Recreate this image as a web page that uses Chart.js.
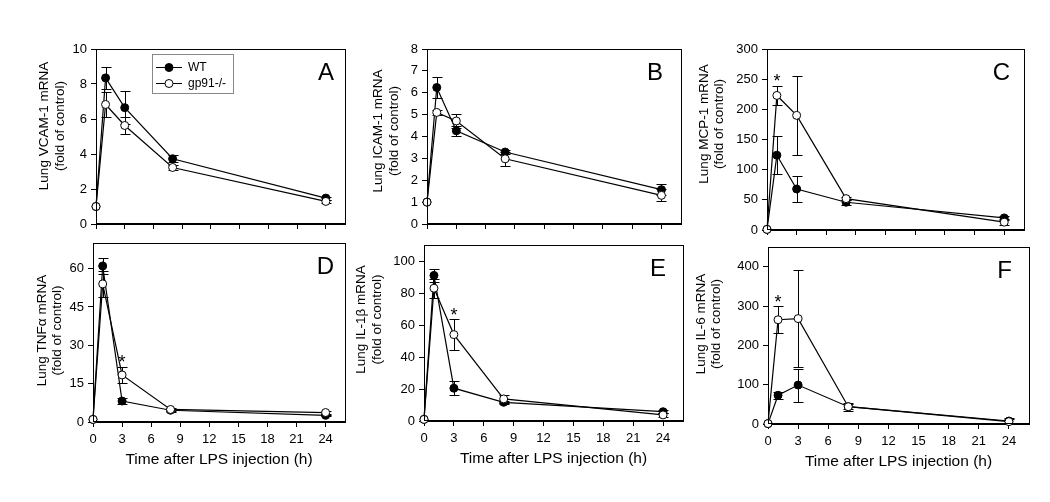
<!DOCTYPE html>
<html>
<head>
<meta charset="utf-8">
<script src="https://cdn.jsdelivr.net/npm/chart.js@4.4.0/dist/chart.umd.min.js"></script>
<style>
  body { margin: 0; background: #fff; width: 1050px; height: 502px; overflow: hidden; position: relative; }
  canvas { position: absolute; }
</style>
</head>
<body>
<script>
Chart.defaults.font.family = "'Liberation Sans', Arial, sans-serif";
Chart.defaults.font.size = 13;
Chart.defaults.color = '#000';

// time points and x ticks (h)
const hours = [0, 1, 3, 8, 24];
const xTicks = [0, 3, 6, 9, 12, 15, 18, 21, 24];

// A - VCAM-1
const vcamWT = [1, 8.35, 6.65, 3.73, 1.48];
const vcamWTerr = [0, 0.63, 0.95, 0.2, 0.08];
const vcamKO = [1, 6.83, 5.63, 3.23, 1.29];
const vcamKOerr = [0, 0.69, 0.47, 0.15, 0.08];
const vcamTicks = [0, 2, 4, 6, 8, 10];

// B - ICAM-1
const icamWT = [1, 6.24, 4.26, 3.29, 1.57];
const icamWTerr = [0, 0.47, 0.23, 0.1, 0.26];
const icamKO = [1, 5.1, 4.71, 2.98, 1.31];
const icamKOerr = [0, 0.1, 0.32, 0.32, 0.28];
const icamTicks = [0, 1, 2, 3, 4, 5, 6, 7, 8];

// C - MCP-1
const mcpWT = [1, 124, 68, 46, 20];
const mcpWTerr = [0, 31, 22, 4, 3];
const mcpKO = [1, 223, 190, 52, 13];
const mcpKOerr = [0, 16, 66, 3, 5];
const mcpTicks = [0, 50, 100, 150, 200, 250, 300];
const mcpStars = [1];

// D - TNFa
const tnfWT = [1, 61, 8.2, 4.6, 2.6];
const tnfWTerr = [0, 3, 1, 0.5, 0.3];
const tnfKO = [1, 54, 18.4, 4.9, 3.7];
const tnfKOerr = [0, 5, 3.2, 0.5, 0.5];
const tnfTicks = [0, 15, 30, 45, 60];
const tnfStars = [3];

// E - IL-1b
const il1WT = [1, 91, 20.5, 11.7, 5.8];
const il1WTerr = [0, 4, 4.3, 1, 1];
const il1KO = [1, 83, 54, 13.8, 3.8];
const il1KOerr = [0, 6, 9.7, 2.5, 1];
const il1Ticks = [0, 20, 40, 60, 80, 100];
const il1Stars = [3];

// F - IL-6
const il6WT = [1, 73, 99, 44, 7.6];
const il6WTerr = [0, 9, 42, 6, 5];
const il6KO = [1, 265, 268, 44, 6];
const il6KOerr = [0, 34, 124, 10, 8];
const il6Ticks = [0, 100, 200, 300, 400];
const il6Stars = [1];

const panels = [
  { letter: 'A', title: ['Lung VCAM-1 mRNA', '(fold of control)'], wt: vcamWT, wtErr: vcamWTerr, ko: vcamKO, koErr: vcamKOerr,
    yMax: 10, yTicks: vcamTicks, stars: [], legend: true, bottom: false,
    box: { l: 96, t: 49, r: 345, b: 224 }, titleDx: 51.5, titleDy: 77, letterDx: 11 },
  { letter: 'B', title: ['Lung ICAM-1 mRNA', '(fold of control)'], wt: icamWT, wtErr: icamWTerr, ko: icamKO, koErr: icamKOerr,
    yMax: 8, yTicks: icamTicks, stars: [], legend: false, bottom: false,
    box: { l: 427, t: 49, r: 681, b: 224 }, titleDx: 48.5, titleDy: 82, letterDx: 18 },
  { letter: 'C', title: ['Lung MCP-1 mRNA', '(fold of control)'], wt: mcpWT, wtErr: mcpWTerr, ko: mcpKO, koErr: mcpKOerr,
    yMax: 300, yTicks: mcpTicks, stars: mcpStars, legend: false, bottom: false,
    box: { l: 767, t: 49, r: 1024, b: 230 }, titleDx: 63, titleDy: 75, letterDx: 14 },
  { letter: 'D', title: ['Lung TNF\u03b1 mRNA', '(fold of control)'], wt: tnfWT, wtErr: tnfWTerr, ko: tnfKO, koErr: tnfKOerr,
    yMax: 70, yTicks: tnfTicks, stars: tnfStars, legend: false, bottom: true,
    box: { l: 93, t: 243, r: 345, b: 422 }, titleDx: 51, titleDy: 87.5, letterDx: 11 },
  { letter: 'E', title: ['Lung IL-1\u03b2 mRNA', '(fold of control)'], wt: il1WT, wtErr: il1WTerr, ko: il1KO, koErr: il1KOerr,
    yMax: 110, yTicks: il1Ticks, stars: il1Stars, legend: false, bottom: true,
    box: { l: 424, t: 245, r: 683, b: 421 }, titleDx: 62.5, titleDy: 74.5, letterDx: 17 },
  { letter: 'F', title: ['Lung IL-6 mRNA', '(fold of control)'], wt: il6WT, wtErr: il6WTerr, ko: il6KO, koErr: il6KOerr,
    yMax: 450, yTicks: il6Ticks, stars: il6Stars, legend: false, bottom: true,
    box: { l: 768, t: 247, r: 1029, b: 424 }, titleDx: 67, titleDy: 77, letterDx: 17 }
];

// error bars, frame, letter, y title, legend, stars
const decor = {
  id: 'decor',
  beforeDatasetsDraw(chart, args, o) {
    const ctx = chart.ctx, xs = chart.scales.x, ys = chart.scales.y;
    ctx.save();
    ctx.strokeStyle = '#000';
    ctx.lineWidth = 1;
    chart.data.datasets.forEach(ds => {
      ds.data.forEach((pt, i) => {
        const e = ds.errors[i];
        if (!e) return;
        const x = Math.round(xs.getPixelForValue(pt.x)) + 0.5;
        const y1 = Math.round(ys.getPixelForValue(pt.y + e)) + 0.5;
        const y2 = Math.round(ys.getPixelForValue(Math.max(pt.y - e, 0))) + 0.5;
        ctx.beginPath();
        ctx.moveTo(x, y1); ctx.lineTo(x, y2);
        ctx.moveTo(x - 5, y1); ctx.lineTo(x + 5, y1);
        ctx.moveTo(x - 5, y2); ctx.lineTo(x + 5, y2);
        ctx.stroke();
      });
    });
    ctx.restore();
  },
  afterDraw(chart, args, o) {
    const ctx = chart.ctx, a = chart.chartArea, xs = chart.scales.x, ys = chart.scales.y;
    ctx.save();
    // frame
    ctx.strokeStyle = '#000';
    ctx.lineWidth = 1;
    ctx.strokeRect(Math.round(a.left) + 0.5, Math.round(a.top) + 0.5, Math.round(a.right - a.left), Math.round(a.bottom - a.top) - 1);

    // panel letter
    ctx.fillStyle = '#000';
    ctx.font = "24px 'Liberation Sans', Arial, sans-serif";
    ctx.textAlign = 'right';
    ctx.textBaseline = 'alphabetic';
    ctx.fillText(o.letter, a.right - o.letterDx, a.top + 31);

    // y axis title (two lines, rotated)
    ctx.font = "13.5px 'Liberation Sans', Arial, sans-serif";
    ctx.textAlign = 'center';
    ctx.textBaseline = 'middle';
    o.title.forEach((line, k) => {
      ctx.save();
      ctx.translate(a.left - o.titleDx + k * 15.5, a.top + o.titleDy);
      ctx.rotate(-Math.PI / 2);
      ctx.fillText(line, 0, 0);
      ctx.restore();
    });

    // significance stars on gp91-/- series
    const ko = chart.data.datasets[1];
    ctx.font = "18px 'Liberation Sans', Arial, sans-serif";
    ctx.textBaseline = 'alphabetic';
    o.stars.forEach(h => {
      const i = hours.indexOf(h);
      const x = xs.getPixelForValue(h);
      const yTop = ys.getPixelForValue(ko.data[i].y + ko.errors[i]);
      ctx.fillText('*', x, yTop + 1.5);
    });

    // legend box (panel A only)
    if (o.legend) {
      const lx = a.left + 56, ly = a.top + 5;
      ctx.strokeStyle = '#888';
      ctx.strokeRect(Math.round(lx) + 0.5, Math.round(ly) + 0.5, 81, 39);
      ctx.font = "12px 'Liberation Sans', Arial, sans-serif";
      ctx.textAlign = 'left';
      ctx.textBaseline = 'middle';
      chart.data.datasets.forEach((ds, k) => {
        const y = ly + 13.5 + k * 16;
        ctx.strokeStyle = '#000';
        ctx.beginPath();
        ctx.moveTo(lx + 4, y); ctx.lineTo(lx + 30, y);
        ctx.stroke();
        ctx.beginPath();
        ctx.arc(lx + 17, y, 4, 0, Math.PI * 2);
        ctx.fillStyle = ds.pointBackgroundColor;
        ctx.fill();
        ctx.stroke();
        ctx.fillStyle = '#000';
        ctx.fillText(ds.label, lx + 36, y);
      });
    }
    ctx.restore();
  }
};

function series(label, vals, errs, fill, order) {
  return {
    label: label,
    data: hours.map((h, i) => ({ x: h, y: vals[i] })),
    errors: errs,
    borderColor: '#000',
    borderWidth: 1.2,
    pointRadius: 4,
    pointBorderWidth: 1,
    pointBorderColor: '#000',
    pointBackgroundColor: fill,
    tension: 0,
    clip: false,
    order: order
  };
}

panels.forEach(p => {
  const yw = 75, padTop = 14, padRight = 6;
  const xh = p.bottom ? 55 : 14;
  const canvas = document.createElement('canvas');
  canvas.width = yw + (p.box.r - p.box.l) + padRight;
  canvas.height = padTop + (p.box.b - p.box.t) + xh;
  canvas.style.left = (p.box.l - yw) + 'px';
  canvas.style.top = (p.box.t - padTop) + 'px';
  document.body.appendChild(canvas);

  new Chart(canvas, {
    type: 'line',
    data: {
      datasets: [
        series('WT', p.wt, p.wtErr, '#000', 2),
        series('gp91-/-', p.ko, p.koErr, '#fff', 1)
      ]
    },
    options: {
      responsive: false,
      animation: false,
      layout: { padding: { top: padTop, right: padRight, left: 0, bottom: 0 } },
      plugins: {
        legend: { display: false },
        tooltip: { enabled: false },
        decor: { letter: p.letter, letterDx: p.letterDx, title: p.title, titleDx: p.titleDx, titleDy: p.titleDy, stars: p.stars, legend: p.legend }
      },
      scales: {
        x: {
          type: 'linear',
          min: 0,
          max: 26,
          afterBuildTicks: s => { s.ticks = xTicks.map(v => ({ value: v })); },
          afterFit: s => { s.height = xh; },
          grid: { drawOnChartArea: false, drawTicks: true, tickLength: 5, color: '#000' },
          border: { display: true, color: '#000', width: 1 },
          ticks: { display: p.bottom, padding: 5, maxRotation: 0, color: '#000' },
          title: {
            display: p.bottom,
            text: 'Time after LPS injection (h)',
            color: '#000',
            font: { size: 15.5 },
            padding: { top: 0, bottom: 8 }
          }
        },
        y: {
          type: 'linear',
          min: 0,
          max: p.yMax,
          afterBuildTicks: s => { s.ticks = p.yTicks.map(v => ({ value: v })); },
          afterFit: s => { s.width = yw; },
          grid: { drawOnChartArea: false, drawTicks: true, tickLength: 5, color: '#000' },
          border: { display: true, color: '#000', width: 1 },
          ticks: { padding: 4, color: '#000' }
        }
      }
    },
    plugins: [decor]
  });
});
</script>
</body>
</html>
